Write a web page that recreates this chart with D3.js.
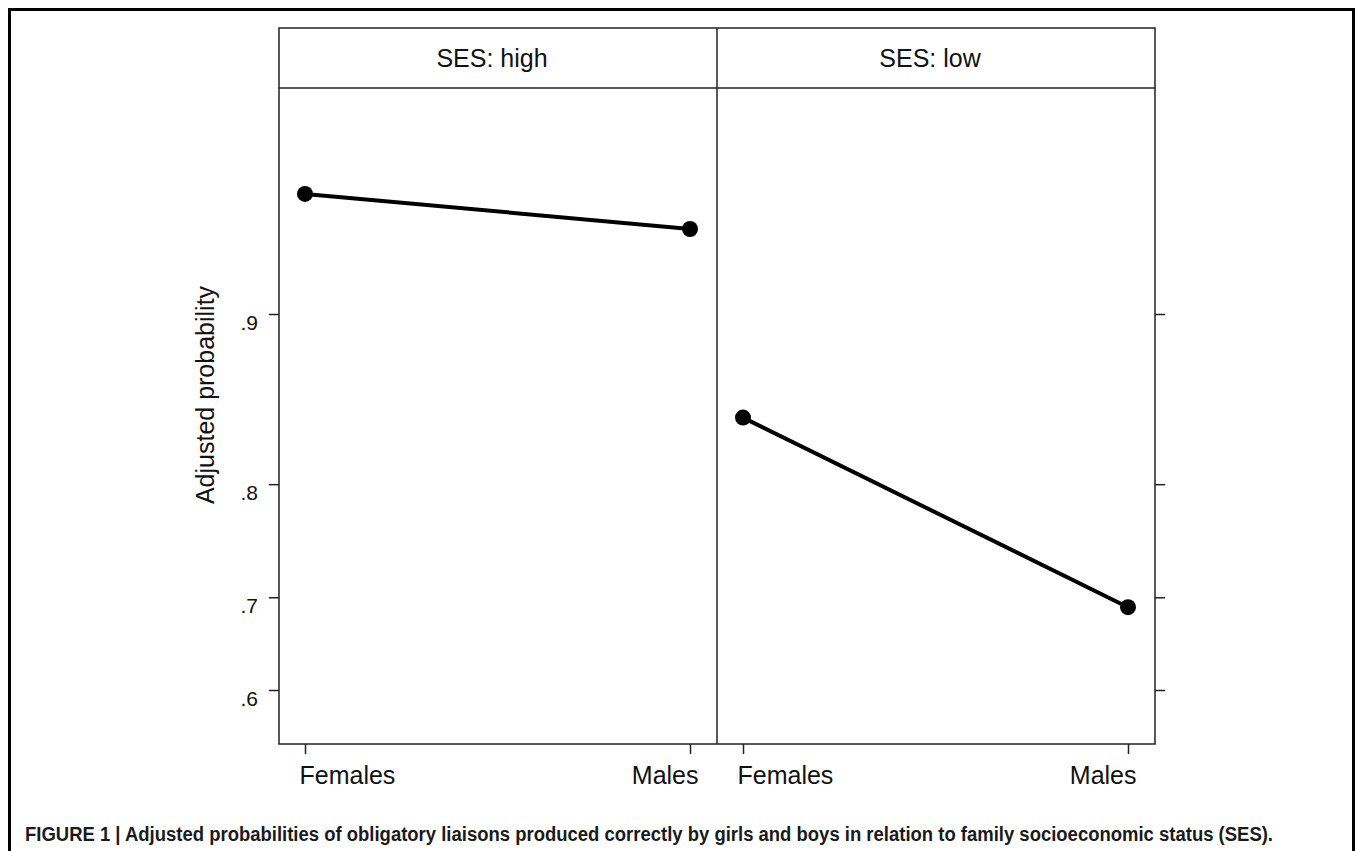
<!DOCTYPE html>
<html>
<head>
<meta charset="utf-8">
<script src="https://cdn.jsdelivr.net/npm/d3@7"></script>
<style>
  body { margin: 0; background: #fff; }
  svg { display: block; }
</style>
</head>
<body>
<div id="chart"></div>
<script>
// data
const panels = ["SES: high", "SES: low"];
const genders = ["Females", "Males"];
const probHigh = [0.941, 0.931];
const probLow = [0.846, 0.69];
const yTicks = [0.6, 0.7, 0.8, 0.9];
const yTickLabels = [".6", ".7", ".8", ".9"];
const yTitle = "Adjusted probability";
const caption =
  "FIGURE 1 | Adjusted probabilities of obligatory liaisons produced correctly by girls and boys in relation to family socioeconomic status (SES).";

const width = 1357;
const height = 851;
const font = "'Liberation Sans', Arial, sans-serif";

const plot = { left: 279, right: 1155, top: 88, bottom: 744, stripTop: 28 };
const panelWidth = (plot.right - plot.left) / panels.length;

const logit = (p) => Math.log(p / (1 - p));

const svg = d3
  .select("#chart")
  .append("svg")
  .attr("width", width)
  .attr("height", height)
  .style("font-family", font);

// outer figure frame
svg
  .append("rect")
  .attr("x", 9.5)
  .attr("y", 9.5)
  .attr("width", 1344)
  .attr("height", 860)
  .attr("fill", "none")
  .attr("stroke", "#000")
  .attr("stroke-width", 3);

// y scale is linear in logit units
const yScale = d3
  .scaleLinear()
  .domain([logit(0.6), logit(0.9)])
  .range([690, 314]);

const panelScale = d3
  .scaleBand()
  .domain(panels)
  .range([plot.left, plot.right]);

const xScale = d3.scalePoint().domain(genders).range([26, panelWidth - 27]);

const lineColor = "#222";
const textColor = "#111";

// strip + plot frame
svg
  .append("rect")
  .attr("x", plot.left)
  .attr("y", plot.stripTop)
  .attr("width", plot.right - plot.left)
  .attr("height", plot.bottom - plot.stripTop)
  .attr("fill", "none")
  .attr("stroke", lineColor)
  .attr("stroke-width", 1.5);

svg
  .append("line")
  .attr("x1", plot.left)
  .attr("x2", plot.right)
  .attr("y1", plot.top)
  .attr("y2", plot.top)
  .attr("stroke", lineColor)
  .attr("stroke-width", 1.5);

const series = [probHigh, probLow];

panels.forEach((name, i) => {
  const x0 = panelScale(name);
  const g = svg.append("g").attr("transform", `translate(${x0}, 0)`);

  if (i > 0) {
    g.append("line")
      .attr("x1", 0)
      .attr("x2", 0)
      .attr("y1", plot.stripTop)
      .attr("y2", plot.bottom)
      .attr("stroke", lineColor)
      .attr("stroke-width", 1.5);
  }

  g.append("text")
    .attr("x", panelWidth / 2 - 6)
    .attr("y", 67)
    .attr("text-anchor", "middle")
    .style("font-size", "25px")
    .style("fill", textColor)
    .text(name);

  // x axis
  const xAxis = d3.axisBottom(xScale).tickSize(10).tickPadding(12);
  const xg = g
    .append("g")
    .attr("transform", `translate(0, ${plot.bottom})`)
    .call(xAxis);
  xg.select(".domain").remove();
  xg.selectAll(".tick line").attr("stroke", lineColor).attr("stroke-width", 1.5);
  // first label starts at its tick, last one ends at its tick
  xg.selectAll(".tick text")
    .attr("text-anchor", (d, j) => (j === 0 ? "start" : "end"))
    .attr("x", (d, j) => (j === 0 ? -6 : 8))
    .style("font-size", "25px")
    .style("font-family", font)
    .style("fill", textColor);

  // data
  const pts = genders.map((gd, j) => ({ g: gd, p: series[i][j] }));
  const line = d3
    .line()
    .x((d) => xScale(d.g))
    .y((d) => yScale(logit(d.p)));

  g.append("path")
    .datum(pts)
    .attr("d", line)
    .attr("fill", "none")
    .attr("stroke", "#000")
    .attr("stroke-width", 4);

  g.selectAll("circle")
    .data(pts)
    .enter()
    .append("circle")
    .attr("cx", (d) => xScale(d.g))
    .attr("cy", (d) => yScale(logit(d.p)))
    .attr("r", 8)
    .attr("fill", "#000");
});

// y axis on left
const yLeft = d3
  .axisLeft(yScale)
  .tickValues(yTicks.map(logit))
  .tickFormat((d, i) => yTickLabels[i])
  .tickSize(10)
  .tickPadding(11);
const ylg = svg
  .append("g")
  .attr("transform", `translate(${plot.left}, 0)`)
  .call(yLeft);
ylg.select(".domain").remove();
ylg.selectAll(".tick line").attr("stroke", lineColor).attr("stroke-width", 1.5);
ylg.selectAll(".tick text")
  .attr("dy", "0.72em")
  .style("font-size", "21px")
  .style("font-family", font)
  .style("fill", textColor);

// y ticks on right, no labels
const yRight = d3
  .axisRight(yScale)
  .tickValues(yTicks.map(logit))
  .tickFormat("")
  .tickSize(10);
const yrg = svg
  .append("g")
  .attr("transform", `translate(${plot.right}, 0)`)
  .call(yRight);
yrg.select(".domain").remove();
yrg.selectAll(".tick line").attr("stroke", lineColor).attr("stroke-width", 1.5);

// y title
svg
  .append("text")
  .attr("transform", `translate(214, 395) rotate(-90)`)
  .attr("text-anchor", "middle")
  .style("font-size", "25px")
  .style("fill", textColor)
  .text(yTitle);

// caption
svg
  .append("text")
  .attr("x", 25)
  .attr("y", 841)
  .attr("textLength", 1248)
  .attr("lengthAdjust", "spacingAndGlyphs")
  .style("font-size", "20px")
  .style("font-weight", "bold")
  .style("fill", "#1a1a1a")
  .text(caption);
</script>
</body>
</html>
